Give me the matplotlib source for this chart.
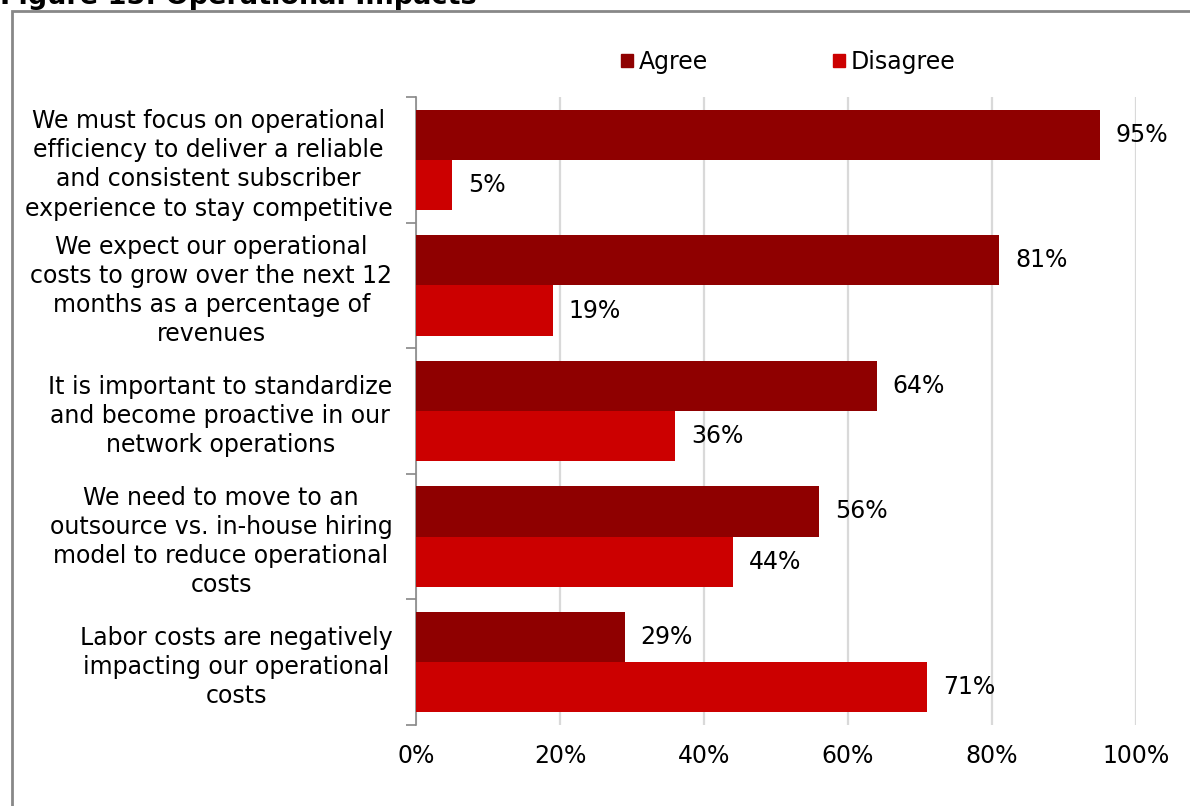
import matplotlib.pyplot as plt
from matplotlib.patches import Patch, Rectangle
from matplotlib.ticker import FixedLocator, PercentFormatter

statements = [
    "We must focus on operational\nefficiency to deliver a reliable\nand consistent subscriber\nexperience to stay competitive",
    "We expect our operational\ncosts to grow over the next 12\nmonths as a percentage of\nrevenues",
    "It is important to standardize\nand become proactive in our\nnetwork operations",
    "We need to move to an\noutsource vs. in-house hiring\nmodel to reduce operational\ncosts",
    "Labor costs are negatively\nimpacting our operational\ncosts",
]
agree = [95, 81, 64, 56, 29]
disagree = [5, 19, 36, 44, 71]

c_agree = "#8f0000"
c_disagree = "#cc0000"
fs = 17

plt.rcParams["font.family"] = "DejaVu Sans"
fig = plt.figure(figsize=(11.9, 8.06), dpi=100)
ax = fig.add_axes([416 / 1190, 1 - 725 / 806, 720 / 1190, 628 / 806])

pos = list(range(len(statements)))
h = 0.4
ax.barh([p - h / 2 for p in pos], agree, height=h, color=c_agree, zorder=3)
ax.barh([p + h / 2 for p in pos], disagree, height=h, color=c_disagree, zorder=3)

for p, a, d in zip(pos, agree, disagree):
    ax.text(a + 2.2, p - h / 2, f"{a}%", va="center", ha="left", fontsize=fs)
    ax.text(d + 2.2, p + h / 2, f"{d}%", va="center", ha="left", fontsize=fs)

ax.set_xlim(0, 100)
ax.set_ylim(len(statements) - 0.5, -0.5)
ax.xaxis.set_major_locator(FixedLocator([0, 20, 40, 60, 80, 100]))
ax.xaxis.set_major_formatter(PercentFormatter(decimals=0))
ax.grid(axis="x", color="#d9d9d9", linewidth=1.6, zorder=0)
ax.tick_params(axis="x", length=0, pad=14, labelsize=fs)

ax.set_yticks(pos)
ax.set_yticklabels(statements, fontsize=fs, linespacing=1.27, multialignment="center")
ax.yaxis.set_minor_locator(FixedLocator([p - 0.5 for p in range(len(statements) + 1)]))
ax.tick_params(axis="y", which="major", length=0, pad=17)
ax.tick_params(axis="y", which="minor", length=7, color="#888888", width=1.2)

for s in ["top", "right", "bottom"]:
    ax.spines[s].set_visible(False)
ax.spines["left"].set_color("#888888")
ax.spines["left"].set_linewidth(1.2)

handles = [Patch(color=c_agree, label="Agree"), Patch(color=c_disagree, label="Disagree")]
fig.legend(handles=handles, loc="center", bbox_to_anchor=(788 / 1190, 1 - 62 / 806),
           ncol=2, frameon=False, fontsize=fs, handlelength=0.5, handleheight=0.5,
           handletextpad=0.25, columnspacing=5.3)

# outer frame and title, both running past the canvas edge
fig.patches.append(Rectangle((12 / 1190, -0.05), 1.2, 1 - 11 / 806 + 0.05,
                             transform=fig.transFigure, fill=False,
                             edgecolor="#888888", linewidth=2))
fig.text(0.0, 1 - 4 / 806, "Figure 15: Operational Impacts", fontsize=19.5,
         fontweight="bold", va="baseline", ha="left")

fig.savefig("out.png", dpi=100)
